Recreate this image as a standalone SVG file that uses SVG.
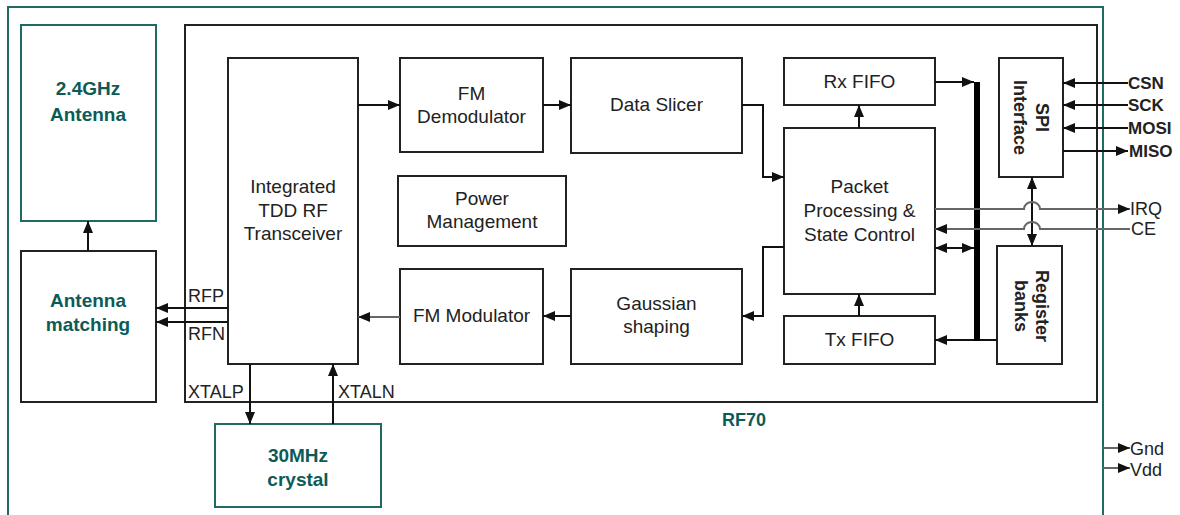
<svg xmlns="http://www.w3.org/2000/svg" width="1180" height="515" viewBox="0 0 1180 515">
<style>
.blk{fill:#fff;stroke:#222;stroke-width:2}
.tl{fill:#fff;stroke:#1f6b63;stroke-width:2}
.t{font-family:"Liberation Sans",Arial,sans-serif;font-size:19px;fill:#222;text-anchor:middle}
.tb{font-family:"Liberation Sans",Arial,sans-serif;font-size:19px;font-weight:bold;fill:#0d5b57;text-anchor:middle}
.rb{font-family:"Liberation Sans",Arial,sans-serif;font-size:18px;font-weight:bold;fill:#222;text-anchor:middle}
.pin{font-family:"Liberation Sans",Arial,sans-serif;font-size:18px;fill:#222}
.c{fill:none;stroke:#111;stroke-width:2}
.g{fill:none;stroke:#666;stroke-width:2}
</style>
<defs>
<marker id="ah" markerUnits="userSpaceOnUse" markerWidth="12" markerHeight="10" refX="12" refY="5" orient="auto-start-reverse" viewBox="0 0 12 10">
<path d="M0,0 L12,5 L0,10 z" fill="#111"/>
</marker>
</defs>
<rect width="1180" height="515" fill="#fff"/>
<path d="M8,515 L8,7 L1103,7 L1103,515" fill="none" stroke="#1f6b63" stroke-width="2"/>
<g id="rf70">
<rect x="185" y="25" width="912" height="377" fill="none" stroke="#222" stroke-width="2"/>
<text x="744" y="426" class="tb" style="font-size:18px">RF70</text>
</g>
<g id="antenna"><rect class="tl" x="21" y="25" width="135" height="196"/>
<text class="tb" x="88" y="95">2.4GHz</text><text class="tb" x="88" y="121">Antenna</text></g>
<g id="matching"><rect class="blk" x="21" y="251" width="135" height="151"/>
<text class="tb" x="88" y="307">Antenna</text><text class="tb" x="88" y="331">matching</text></g>
<g id="transceiver"><rect class="blk" x="228" y="58" width="130" height="306"/>
<text class="t" x="293" y="193">Integrated</text><text class="t" x="293" y="216.5">TDD RF</text><text class="t" x="293" y="240">Transceiver</text></g>
<g id="crystal"><rect class="tl" x="215" y="424" width="166" height="83"/>
<text class="tb" x="298" y="462">30MHz</text><text class="tb" x="298" y="486">crystal</text></g>
<g id="fmdemod"><rect class="blk" x="400" y="58" width="143" height="94"/>
<text class="t" x="471.5" y="100">FM</text><text class="t" x="471.5" y="123">Demodulator</text></g>
<g id="slicer"><rect class="blk" x="571" y="58" width="171" height="95"/>
<text class="t" x="656.5" y="111">Data Slicer</text></g>
<g id="power"><rect class="blk" x="398" y="176" width="168" height="70"/>
<text class="t" x="482" y="205">Power</text><text class="t" x="482" y="228">Management</text></g>
<g id="fmmod"><rect class="blk" x="400" y="269" width="143" height="95"/>
<text class="t" x="471.5" y="322">FM Modulator</text></g>
<g id="gauss"><rect class="blk" x="571" y="269" width="171" height="95"/>
<text class="t" x="656.5" y="310">Gaussian</text><text class="t" x="656.5" y="333">shaping</text></g>
<g id="rxfifo"><rect class="blk" x="784" y="58" width="151" height="47"/>
<text class="t" x="859.5" y="88">Rx FIFO</text></g>
<g id="packet"><rect class="blk" x="784" y="128" width="151" height="166"/>
<text class="t" x="859.5" y="193">Packet</text><text class="t" x="859.5" y="217">Processing &amp;</text><text class="t" x="859.5" y="241">State Control</text></g>
<g id="txfifo"><rect class="blk" x="784" y="316" width="151" height="48"/>
<text class="t" x="859.5" y="346">Tx FIFO</text></g>
<g id="spi"><rect class="blk" x="999" y="58" width="64" height="119"/>
<g transform="translate(1031,117.5) rotate(90)"><text class="rb" x="0" y="-5">SPI</text><text class="rb" x="0" y="17">Interface</text></g></g>
<g id="regbanks"><rect class="blk" x="997" y="246" width="65" height="118"/>
<g transform="translate(1031,306) rotate(90)"><text class="rb" x="0" y="-5">Register</text><text class="rb" x="0" y="16">banks</text></g></g>
<g id="connectors">
<path class="c" d="M88,251 L88,221" marker-end="url(#ah)"/>
<path class="c" d="M228,308 L156,308" marker-end="url(#ah)"/>
<path class="c" d="M228,322 L156,322" marker-end="url(#ah)"/>
<path class="c" d="M250,364 L250,424" marker-end="url(#ah)"/>
<path class="c" d="M333,424 L333,364" marker-end="url(#ah)"/>
<path class="c" d="M358,105 L400,105" marker-end="url(#ah)"/>
<path class="c" d="M543,105 L571,105" marker-end="url(#ah)"/>
<path class="c" d="M742,105 L763,105 L763,177 L784,177" marker-end="url(#ah)"/>
<path class="c" d="M784,247 L763,247 L763,316 L742,316" marker-end="url(#ah)"/>
<path class="c" d="M571,316 L543,316" marker-end="url(#ah)"/>
<path class="g" d="M400,317 L358,317" marker-end="url(#ah)"/>
<path class="c" d="M859,128 L859,105" marker-end="url(#ah)"/>
<path class="c" d="M859,316 L859,294" marker-end="url(#ah)"/>
<path class="c" d="M935,82 L974,82" marker-end="url(#ah)"/>
<path class="c" d="M935,248 L974,248" marker-start="url(#ah)" marker-end="url(#ah)"/>
<path class="c" d="M997,340 L935,340" marker-end="url(#ah)"/>
<rect x="974" y="82" width="6" height="259" fill="#000"/>
<path class="c" d="M1032,177 L1032,246" marker-start="url(#ah)" marker-end="url(#ah)"/>
<path class="g" d="M935,209 L1024,209 A8,7 0 0 1 1040,209 L1130,209" marker-end="url(#ah)"/>
<path class="g" d="M1130,229 L1040,229 A8,7 0 0 0 1024,229 L935,229" marker-end="url(#ah)"/>
<path class="c" d="M1128,83 L1063,83" marker-end="url(#ah)"/>
<path class="c" d="M1128,105 L1063,105" marker-end="url(#ah)"/>
<path class="c" d="M1128,128 L1063,128" marker-end="url(#ah)"/>
<path class="c" d="M1063,151 L1128,151" marker-end="url(#ah)"/>
<path class="g" d="M1103,448 L1130,448" marker-end="url(#ah)"/>
<path class="g" d="M1103,468 L1130,468" marker-end="url(#ah)"/>
</g>
<g id="pins">
<text class="pin" x="188" y="302">RFP</text>
<text class="pin" x="188" y="340">RFN</text>
<text class="pin" x="188" y="398">XTALP</text>
<text class="pin" x="338" y="398">XTALN</text>
<text class="pin" x="1128" y="89" font-weight="bold" style="font-size:17px">CSN</text>
<text class="pin" x="1128" y="111" font-weight="bold" style="font-size:17px">SCK</text>
<text class="pin" x="1128" y="134" font-weight="bold" style="font-size:17px">MOSI</text>
<text class="pin" x="1129" y="157" font-weight="bold" style="font-size:17px">MISO</text>
<text class="pin" x="1130" y="215">IRQ</text>
<text class="pin" x="1131" y="235">CE</text>
<text class="pin" x="1130" y="455">Gnd</text>
<text class="pin" x="1130" y="476">Vdd</text>
</g>
</svg>
